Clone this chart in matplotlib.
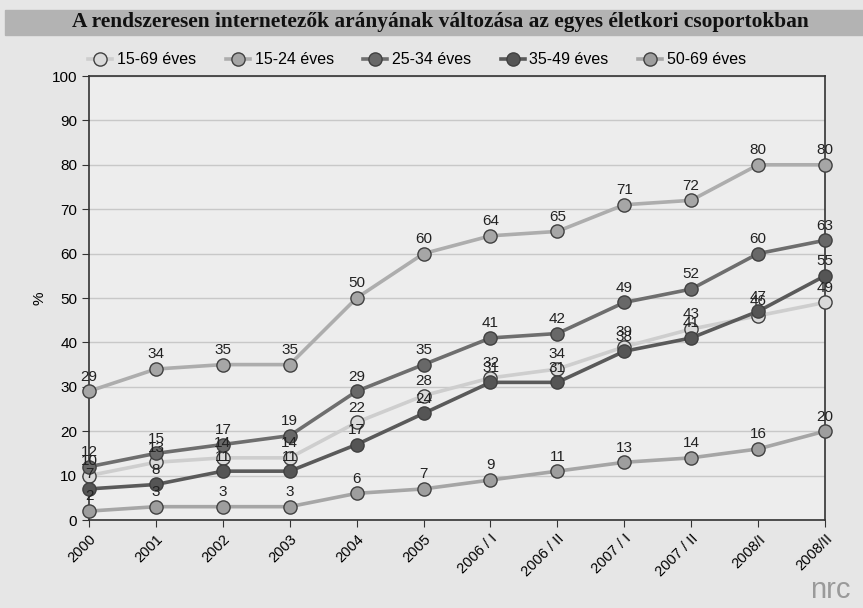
import matplotlib
matplotlib.use("Agg")
import matplotlib.pyplot as plt
from matplotlib.patches import Rectangle

plt.rcParams['font.family'] = ['Liberation Sans', 'DejaVu Sans']

periods = ["2000", "2001", "2002", "2003", "2004", "2005", "2006 / I", "2006 / II",
           "2007 / I", "2007 / II", "2008/I", "2008/II"]
names = ["15-69 éves", "15-24 éves", "25-34 éves", "35-49 éves", "50-69 éves"]
v_15_69 = [10, 13, 14, 14, 22, 28, 32, 34, 39, 43, 46, 49]
v_15_24 = [29, 34, 35, 35, 50, 60, 64, 65, 71, 72, 80, 80]
v_25_34 = [12, 15, 17, 19, 29, 35, 41, 42, 49, 52, 60, 63]
v_35_49 = [7, 8, 11, 11, 17, 24, 31, 31, 38, 41, 47, 55]
v_50_69 = [2, 3, 3, 3, 6, 7, 9, 11, 13, 14, 16, 20]
series = [v_15_69, v_15_24, v_25_34, v_35_49, v_50_69]

line_cols = ["#cecece", "#adadad", "#6e6e6e", "#5a5a5a", "#a6a6a6"]
face_cols = ["#dadada", "#a6a6a6", "#686868", "#555555", "#9e9e9e"]

fig = plt.figure(figsize=(8.63, 6.08), dpi=100, facecolor="#e6e6e6")

# title band
fig.patches.append(Rectangle((5 / 863, 1 - 35 / 608), 1, 25 / 608,
                             transform=fig.transFigure, color="#b3b3b3", zorder=0))
fig.text(440 / 863, 1 - 22 / 608,
         "A rendszeresen internetezők arányának változása az egyes életkori csoportokban",
         ha="center", va="center", fontsize=15.4, fontweight="bold",
         family=["Liberation Serif", "DejaVu Serif"], color="#111111")

ax = fig.add_axes([89 / 863, 1 - 520 / 608, (825 - 89) / 863, (520 - 76) / 608])
ax.set_facecolor("#ededed")

x = list(range(len(periods)))
for vals, name, lc, fc in zip(series, names, line_cols, face_cols):
    ax.plot(x, vals, color=lc, lw=2.6, marker="o", markersize=9.5,
            markerfacecolor=fc, markeredgecolor="#404040", markeredgewidth=1,
            label=name, clip_on=False, zorder=3)
    for xi, v in zip(x, vals):
        ax.annotate(str(v), (xi, v), xytext=(0, 5.5), textcoords="offset points",
                    ha="center", va="bottom", fontsize=11, color="#222222", zorder=4)

ax.set_xlim(0, len(periods) - 1)
ax.set_ylim(0, 100)
ax.set_yticks(range(0, 101, 10))
ax.set_xticks(x)
ax.set_xticklabels(periods, rotation=45, ha="right", rotation_mode="anchor")
ax.tick_params(axis="y", labelsize=11, color="#333333", length=5, direction="out")
ax.tick_params(axis="x", labelsize=10.5, color="#333333", length=5, direction="out")
ax.grid(axis="y", color="#c8c8c8", lw=1)
ax.set_axisbelow(True)
for s in ax.spines.values():
    s.set_color("#333333")
    s.set_linewidth(1.2)
ax.set_ylabel("%", fontsize=11, labelpad=4)

ax.legend(loc="center left", bbox_to_anchor=(74 / 863, 1 - 60 / 608),
          bbox_transform=fig.transFigure, ncol=5, frameon=False, fontsize=11.5,
          handlelength=1.5, columnspacing=1.85, handletextpad=0.3)

fig.text(830 / 863, 1 - 590 / 608, "nrc", ha="center", va="center",
         fontsize=21, color="#9a9a9a")

fig.savefig("out.png", dpi=100, facecolor=fig.get_facecolor())
